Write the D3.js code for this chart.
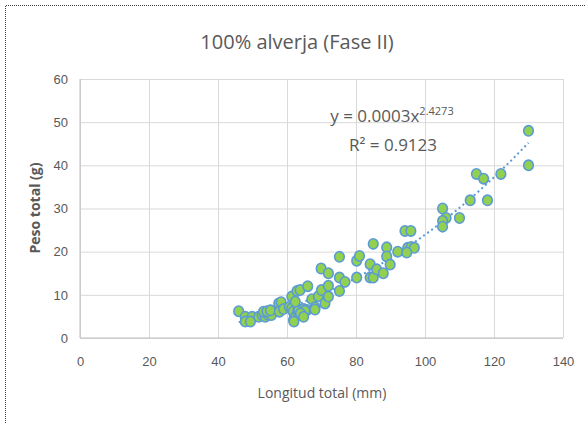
<!DOCTYPE html>
<html>
<head>
<meta charset="utf-8">
<script src="https://cdn.jsdelivr.net/npm/d3@7"></script>
<style>
  html, body { margin: 0; padding: 0; background: #fff; }
  svg { display: block; font-family: "Liberation Sans Narrow", "Open Sans", sans-serif; }
  .grid line { stroke: #d9d9d9; }
  .grid path { display: none; }
  .axis path, .axis line { display: none; }
  .axis text { fill: #595959; font-size: 13px; }
</style>
</head>
<body>
<div id="chart"></div>
<script>
// 100% alverja (Fase II) - peso vs longitud, power trendline.
const title = "100% alverja (Fase II)";
const xLabel = "Longitud total (mm)";
const yLabel = "Peso total (g)";
const xTicks = [0, 20, 40, 60, 80, 100, 120, 140];
const yTicks = [0, 10, 20, 30, 40, 50, 60];
const eqText = ["y = 0.0003x", "2.4273"];
const r2Text = "R² = 0.9123";

const longitud = [46, 47.9, 47.9, 49.9, 49.4, 51.8, 52.8, 53.7, 54.7, 55.5,
  53.2, 54.2, 55.2, 57.6, 58.3, 57.8, 59, 60.7, 61.4, 61.8,
  61.9, 62.4, 62, 63.1, 63.4, 64.8, 65.8, 65.2, 63.9, 64.8,
  61.4, 62.4, 62.9, 63.8, 66, 67.2, 68.1, 68.1, 69.1, 70,
  69.9, 71, 72, 72, 72, 75.2, 75.2, 75.2, 76.8, 80.2,
  80.2, 81, 84.1, 84.1, 85, 85, 86, 87.9, 88.9, 88.9,
  89.9, 92.1, 94.2, 95.9, 95, 96, 96.9, 94.7, 105.1, 106.1,
  105.1, 105.1, 110, 113.1, 118.1, 114.9, 117, 122, 130, 130];
const peso = [6.2, 4.9, 3.8, 4.9, 3.8, 4.9, 5.3, 4.9, 5.3, 5.3,
  6.1, 6.2, 6.4, 8.0, 8.3, 6.1, 6.7, 7.2, 6.9, 6.1,
  4.2, 4.9, 3.8, 6.2, 6.5, 6.7, 6.5, 6.3, 5.7, 4.9,
  9.6, 8.4, 10.9, 11.1, 12, 9, 7.1, 6.6, 9.7, 11.1,
  16.1, 8.0, 9.6, 12.1, 15, 10.9, 14, 18.8, 13.0, 14,
  17.9, 19, 17.1, 14, 14, 21.8, 15.9, 15, 21, 18.9,
  17, 20, 24.8, 24.8, 20.9, 21.1, 20.9, 19.8, 30, 27.8,
  27.1, 25.8, 27.8, 31.9, 31.9, 38, 36.9, 38, 48, 40];

const width = 586, height = 423;
const margin = { top: 79, right: 23, bottom: 85, left: 80 };

const svg = d3.select("#chart").append("svg")
  .attr("width", width).attr("height", height);

// chart frame (only top/left edges show in the crop)
svg.append("path").attr("d", `M5.5,${height}V5.5H${width}`)
  .attr("fill", "none").attr("stroke", "#404040").attr("stroke-dasharray", "1,1");

const x = d3.scaleLinear().domain([0, 140]).range([margin.left, width - margin.right]);
const y = d3.scaleLinear().domain([0, 60]).range([height - margin.bottom, margin.top]);

svg.append("g").attr("class", "grid").attr("transform", `translate(${margin.left},0)`)
  .call(d3.axisLeft(y).tickValues(yTicks).tickSize(-(width - margin.left - margin.right)).tickFormat(""));
svg.append("g").attr("class", "grid").attr("transform", `translate(0,${height - margin.bottom})`)
  .call(d3.axisBottom(x).tickValues(xTicks).tickSize(-(height - margin.top - margin.bottom)).tickFormat(""));

// axis lines
svg.append("line").attr("x1", x(0)).attr("x2", x(140)).attr("y1", y(0)).attr("y2", y(0)).attr("stroke", "#bfbfbf");
svg.append("line").attr("x1", x(0)).attr("x2", x(0)).attr("y1", y(0)).attr("y2", y(60)).attr("stroke", "#bfbfbf");

svg.append("g").attr("class", "axis").attr("transform", `translate(${margin.left},0)`)
  .call(d3.axisLeft(y).tickValues(yTicks).tickSize(0).tickPadding(12));
svg.append("g").attr("class", "axis").attr("transform", `translate(0,${height - margin.bottom})`)
  .call(d3.axisBottom(x).tickValues(xTicks).tickSize(0).tickPadding(19));

svg.append("text").attr("x", 297).attr("y", 49).attr("text-anchor", "middle")
  .attr("fill", "#595959").attr("font-size", 20).text(title);
svg.append("text").attr("x", 322).attr("y", 398).attr("text-anchor", "middle")
  .attr("fill", "#595959").attr("font-size", 14).text(xLabel);
svg.append("text").attr("transform", "translate(40,208) rotate(-90)").attr("text-anchor", "middle")
  .attr("fill", "#595959").attr("font-size", 14).attr("font-weight", "bold").text(yLabel);

// power trendline: least squares in log-log space
const pts = longitud.map((v, i) => ({ x: v, y: peso[i] }));
const lx = pts.map(p => Math.log(p.x)), ly = pts.map(p => Math.log(p.y));
const mx = d3.mean(lx), my = d3.mean(ly);
const b = d3.sum(lx, (v, i) => (v - mx) * (ly[i] - my)) / d3.sum(lx, v => (v - mx) ** 2);
const a = Math.exp(my - b * mx);
const [x0, x1] = d3.extent(longitud);
const curve = d3.range(0, 61).map(i => x0 + (x1 - x0) * i / 60).map(v => ({ x: v, y: a * Math.pow(v, b) }));
svg.append("path").datum(curve).attr("fill", "none").attr("stroke", "#5b9bd5")
  .attr("stroke-width", 2).attr("stroke-dasharray", "2,3")
  .attr("d", d3.line().x(d => x(d.x)).y(d => y(d.y)));

svg.selectAll(".pt").data(pts).join("ellipse")
  .attr("cx", d => x(d.x)).attr("cy", d => y(d.y)).attr("rx", 4.8).attr("ry", 5.2)
  .attr("fill", "#92d050").attr("stroke", "#5b9bd5").attr("stroke-width", 1.6);

// equation label
const eq = svg.append("text").attr("x", 392).attr("y", 122).attr("text-anchor", "middle")
  .attr("fill", "#595959").attr("font-size", 17);
eq.append("tspan").text(eqText[0]);
eq.append("tspan").attr("dy", -7).attr("font-size", 11).text(eqText[1]);
svg.append("text").attr("x", 393).attr("y", 151).attr("text-anchor", "middle")
  .attr("fill", "#595959").attr("font-size", 17).text(r2Text);
</script>
</body>
</html>
